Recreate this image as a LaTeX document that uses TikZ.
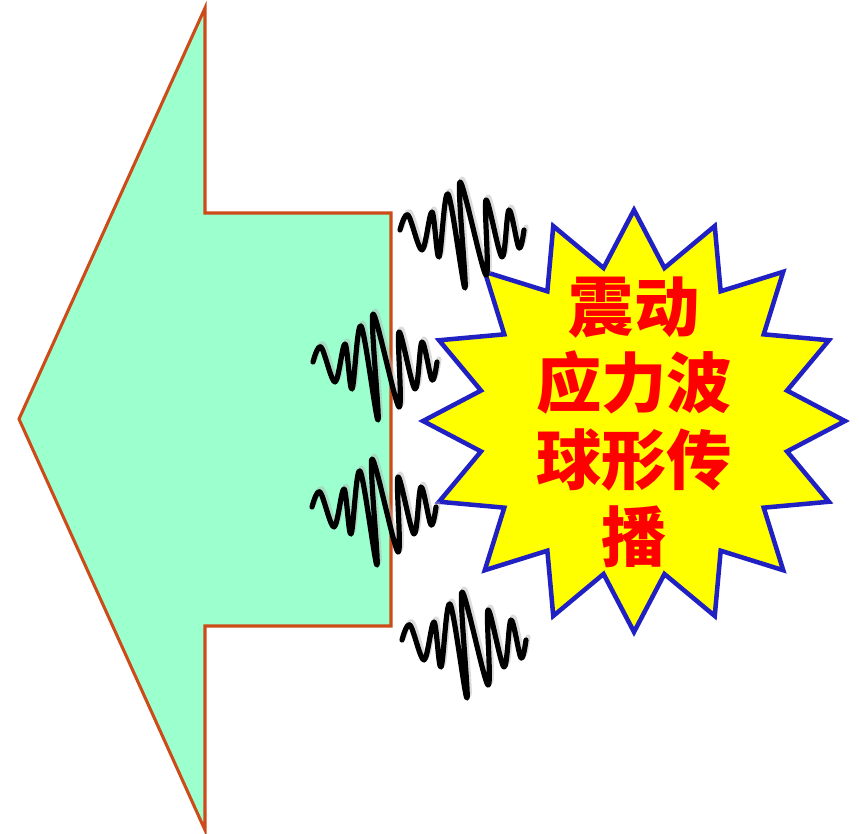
\documentclass[tikz,border=0pt]{standalone}
\usepackage{tikz}
\usepackage{xcolor}
\usepackage{fontspec}
\newfontfamily\cjk{Noto Sans CJK SC}

\definecolor{arrowfill}{RGB}{155,255,206}
\definecolor{arrowline}{RGB}{205,75,25}
\definecolor{burstline}{RGB}{32,32,195}
\definecolor{burstfill}{RGB}{255,255,0}

\tikzset{
  waveline/.style={line width=3.9pt, line cap=round, line join=round},
  wavelet/.pic={
    % soft shadow under the stroke
    \draw[waveline, black!30, opacity=0.45, shift={(2,3)}] plot[smooth, tension=0.55] coordinates
      {(0,0) (8,15) (22,-20) (32,18) (39,-27) (48,36) (65,-58) (60,48) (86,-45) (86,30) (102,-27) (109,20) (119,-18) (124,0)};
    \draw[waveline] plot[smooth, tension=0.55] coordinates
      {(0,0) (8,15) (22,-20) (32,18) (39,-27) (48,36) (65,-58) (60,48) (86,-45) (86,30) (102,-27) (109,20) (119,-18) (124,0)};
  }
}

\begin{document}
\begin{tikzpicture}[x=0.75pt,y=0.75pt,yscale=-1,xscale=1]
\useasboundingbox (0,0) rectangle (859,834);

%Shape: Left Arrow
\draw [color=arrowline, fill=arrowfill, line width=2.3pt, line join=miter]
  (205,8) -- (205,213) -- (391,213) -- (391,626) -- (205,626) -- (205,830) -- (19,419) -- cycle ;

%Shape: Explosion (16 points)
\draw [color=burstline, fill=burstfill, line width=3.4pt, line join=miter, shift={(634,421)}]
  (0:211) \foreach \i in {1,...,31} { -- ({\i*11.25}:{ifthenelse(isodd(\i),156,211)}) } -- cycle ;

%Wavelets
\pic at (400,230) {wavelet};
\pic at (313,362) {wavelet};
\pic at (312,507) {wavelet};
\pic at (402,640) {wavelet};

% Text Node
\node (label) at (634,422) [inner sep=0pt, align=center, text=red,
  font=\cjk\bfseries\fontsize{49}{57.5}\selectfont]
  {震动\\应力波\\球形传\\播};

\end{tikzpicture}
\end{document}
